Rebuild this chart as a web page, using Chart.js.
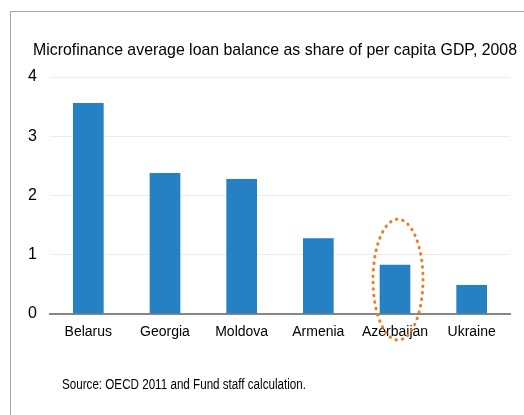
<!DOCTYPE html>
<html>
<head>
<meta charset="utf-8">
<script src="https://cdn.jsdelivr.net/npm/chart.js@4/dist/chart.umd.min.js"></script>
<style>
  body { margin: 0; background: #fff; }
  #frame { position: absolute; left: 10px; top: 11px; width: 520px; height: 410px;
           border-left: 1px solid #a6a6a6; border-top: 1px solid #a6a6a6; }
  #wrap { position: absolute; left: 0; top: 0; width: 524px; height: 415px; }
</style>
</head>
<body>
<div id="frame"></div>
<div id="wrap"><canvas id="loanChart"></canvas></div>
<script>
// Chart data
const countries = ["Belarus", "Georgia", "Moldova", "Armenia", "Azerbaijan", "Ukraine"];
const loanShare = [3.56, 2.38, 2.28, 1.28, 0.83, 0.49];
const yTicks = [0, 1, 2, 3, 4];
const titleText = "Microfinance average loan balance as share of per capita GDP, 2008";
const sourceText = "Source: OECD 2011 and Fund staff calculation.";
const highlighted = "Azerbaijan";

const FONT = "'Liberation Sans', Arial, sans-serif";

// Title, source note + dotted ring round the highlighted bar
const extras = {
  id: "extras",
  afterDraw(chart) {
    const ctx = chart.ctx;
    const x = chart.scales.x, y = chart.scales.y;
    const cx = x.getPixelForValue(countries.indexOf(highlighted));
    const top = y.getPixelForValue(1.6), bottom = y.getPixelForValue(-0.44);
    ctx.save();
    ctx.strokeStyle = "#f47a20";
    ctx.lineWidth = 3;
    ctx.lineCap = "round";
    ctx.setLineDash([0.5, 6]);
    ctx.beginPath();
    ctx.ellipse(cx + 3, (top + bottom) / 2, 25, (bottom - top) / 2, 0, 0, Math.PI * 2);
    ctx.stroke();
    ctx.setLineDash([]);

    // texts squeezed with maxWidth to get the narrow look
    ctx.fillStyle = "#000";
    ctx.textBaseline = "middle";
    ctx.font = "17px " + FONT;
    ctx.textAlign = "center";
    ctx.fillText(titleText, 275, 50, 484);
    ctx.font = "14px " + FONT;
    ctx.textAlign = "left";
    ctx.fillText(sourceText, 62, 385, 244);
    ctx.restore();
  }
};

new Chart(document.getElementById("loanChart"), {
  type: "bar",
  data: {
    labels: countries,
    datasets: [{
      data: loanShare,
      backgroundColor: "#2681c4",
      categoryPercentage: 0.8,
      barPercentage: 0.5
    }]
  },
  options: {
    responsive: true,
    maintainAspectRatio: false,
    animation: false,
    layout: { padding: { left: 20, right: 14, top: 77, bottom: 60 } },
    plugins: {
      legend: { display: false },
      tooltip: { enabled: false },
      title: { display: false }
    },
    scales: {
      x: {
        grid: { display: false, drawTicks: false },
        border: { color: "#868686", width: 2 },
        ticks: { color: "#000", font: { family: FONT, size: 14 }, padding: 10,
                 maxRotation: 0, minRotation: 0, autoSkip: false },
        afterFit: s => { s.height = 41; }
      },
      y: {
        min: 0, max: 4,
        afterBuildTicks: s => { s.ticks = yTicks.map(v => ({ value: v })); },
        grid: { color: "#ececec", drawTicks: false },
        border: { display: false },
        ticks: { color: "#000", font: { family: FONT, size: 16 }, padding: 13 },
        afterFit: s => { s.width = 30; }
      }
    }
  },
  plugins: [extras]
});
</script>
</body>
</html>
